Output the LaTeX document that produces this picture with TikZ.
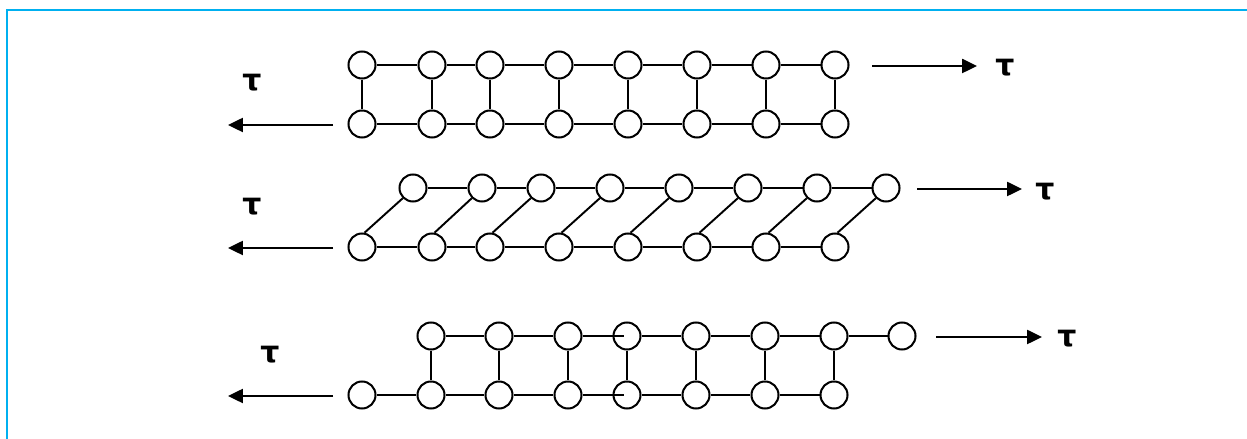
\documentclass[tikz,border=0pt]{standalone}
\usepackage{fontspec}
\setmainfont{DejaVu Sans}
\usetikzlibrary{arrows.meta}
\definecolor{framecol}{HTML}{00B0F0}

\begin{document}
\begin{tikzpicture}[
  site/.style={circle,draw,line width=1.15pt,minimum size=0.54cm,inner sep=0pt},
  bond/.style={line width=1.1pt},
  pull/.style={line width=1.2pt,-{Triangle[length=8.5pt,width=8pt]}},
  tau/.style={font=\fontsize{17}{19}\selectfont\bfseries}
]
\useasboundingbox (0,0) rectangle (24.94,8.78);
\draw[framecol,line width=1.13pt] (0.134,-0.2) -- (0.134,8.58) -- (25.2,8.58);

\node[site] (a1) at (7.24,7.48) {};
\node[site] (a2) at (8.64,7.48) {};
\node[site] (a3) at (9.80,7.48) {};
\node[site] (a4) at (11.18,7.48) {};
\node[site] (a5) at (12.56,7.48) {};
\node[site] (a6) at (13.94,7.48) {};
\node[site] (a7) at (15.32,7.48) {};
\node[site] (a8) at (16.70,7.48) {};
\node[site] (b1) at (7.24,6.30) {};
\node[site] (b2) at (8.64,6.30) {};
\node[site] (b3) at (9.80,6.30) {};
\node[site] (b4) at (11.18,6.30) {};
\node[site] (b5) at (12.56,6.30) {};
\node[site] (b6) at (13.94,6.30) {};
\node[site] (b7) at (15.32,6.30) {};
\node[site] (b8) at (16.70,6.30) {};

\draw[bond] (a1) -- (a2) -- (a3) -- (a4) -- (a5) -- (a6) -- (a7) -- (a8);
\draw[bond] (b1) -- (b2) -- (b3) -- (b4) -- (b5) -- (b6) -- (b7) -- (b8);
\draw[bond] (a1) -- (b1) (a2) -- (b2) (a3) -- (b3) (a4) -- (b4)
  (a5) -- (b5) (a6) -- (b6) (a7) -- (b7) (a8) -- (b8);

\node[site] (c1) at (8.26,5.02) {};
\node[site] (c2) at (9.64,5.02) {};
\node[site] (c3) at (10.82,5.02) {};
\node[site] (c4) at (12.20,5.02) {};
\node[site] (c5) at (13.58,5.02) {};
\node[site] (c6) at (14.96,5.02) {};
\node[site] (c7) at (16.34,5.02) {};
\node[site] (c8) at (17.72,5.02) {};
\node[site] (d1) at (7.24,3.84) {};
\node[site] (d2) at (8.64,3.84) {};
\node[site] (d3) at (9.80,3.84) {};
\node[site] (d4) at (11.18,3.84) {};
\node[site] (d5) at (12.56,3.84) {};
\node[site] (d6) at (13.94,3.84) {};
\node[site] (d7) at (15.32,3.84) {};
\node[site] (d8) at (16.70,3.84) {};

\draw[bond] (c1) -- (c2) -- (c3) -- (c4) -- (c5) -- (c6) -- (c7) -- (c8);
\draw[bond] (d1) -- (d2) -- (d3) -- (d4) -- (d5) -- (d6) -- (d7) -- (d8);
\draw[bond] (d1.80) -- (c1.225) (d2.80) -- (c2.225) (d3.80) -- (c3.225)
  (d4.80) -- (c4.225) (d5.80) -- (c5.225) (d6.80) -- (c6.225)
  (d7.80) -- (c7.225) (d8.80) -- (c8.225);

\node[site] (e1) at (8.62,2.06) {};
\node[site] (e2) at (9.98,2.06) {};
\node[site] (e3) at (11.36,2.06) {};
\node[site] (e4) at (12.54,2.06) {};
\node[site] (e5) at (13.92,2.06) {};
\node[site] (e6) at (15.30,2.06) {};
\node[site] (e7) at (16.68,2.06) {};
\node[site] (e8) at (18.04,2.06) {};
\node[site] (f1) at (7.24,0.88) {};
\node[site] (f2) at (8.62,0.88) {};
\node[site] (f3) at (9.98,0.88) {};
\node[site] (f4) at (11.36,0.88) {};
\node[site] (f5) at (12.54,0.88) {};
\node[site] (f6) at (13.92,0.88) {};
\node[site] (f7) at (15.30,0.88) {};
\node[site] (f8) at (16.68,0.88) {};

\draw[bond] (e1) -- (e2) -- (e3) -- ([xshift=-0.06cm]e4.center);
\draw[bond] (e4) -- (e5) -- (e6) -- (e7) -- (e8);
\draw[bond] (f1) -- (f2) -- (f3) -- (f4) -- ([xshift=-0.06cm]f5.center);
\draw[bond] (f5) -- (f6) -- (f7) -- (f8);
\draw[bond] (e1) -- (f2) (e2) -- (f3) (e3) -- (f4) (e4) -- (f5)
  (e5) -- (f6) (e6) -- (f7) (e7) -- (f8);

\coordinate (l1s) at (6.66,6.28);
\coordinate (l1e) at (4.56,6.28);
\coordinate (r1s) at (17.44,7.46);
\coordinate (r1e) at (19.54,7.46);
\coordinate (l2s) at (6.66,3.82);
\coordinate (l2e) at (4.56,3.82);
\coordinate (r2s) at (18.34,5.00);
\coordinate (r2e) at (20.44,5.00);
\coordinate (l3s) at (6.66,0.86);
\coordinate (l3e) at (4.56,0.86);
\coordinate (r3s) at (18.72,2.04);
\coordinate (r3e) at (20.84,2.04);

\draw[pull] (l1s) -- (l1e);
\draw[pull] (r1s) -- (r1e);
\draw[pull] (l2s) -- (l2e);
\draw[pull] (r2s) -- (r2e);
\draw[pull] (l3s) -- (l3e);
\draw[pull] (r3s) -- (r3e);

\node[tau] (t1l) at (5.04,7.12) {τ};
\node[tau] (t1r) at (20.10,7.42) {τ};
\node[tau] (t2l) at (5.04,4.64) {τ};
\node[tau] (t2r) at (20.90,4.94) {τ};
\node[tau] (t3l) at (5.40,1.68) {τ};
\node[tau] (t3r) at (21.34,2.00) {τ};
\end{tikzpicture}
\end{document}
